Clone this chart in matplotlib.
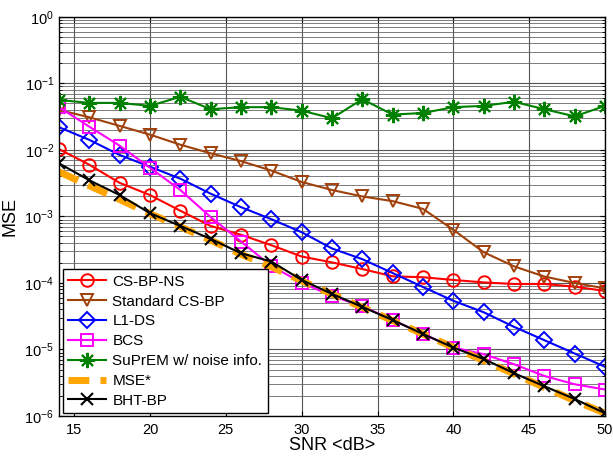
import matplotlib
matplotlib.use("Agg")
import matplotlib.pyplot as plt
import numpy as np

plt.rcParams['font.family'] = ['Liberation Sans', 'DejaVu Sans']
plt.rcParams['mathtext.fontset'] = 'custom'
plt.rcParams['mathtext.rm'] = 'Liberation Sans'
plt.rcParams['mathtext.it'] = 'Liberation Sans'
plt.rcParams['mathtext.default'] = 'regular'

snr = [14, 16, 18, 20, 22, 24, 26, 28, 30, 32, 34, 36, 38, 40, 42, 44, 46, 48, 50]

cs_bp_ns = [0.0103, 0.0060, 0.0032, 0.0021, 0.00122, 0.00072, 0.00053, 0.00037, 0.00025,
            0.000204, 0.000162, 0.000126, 0.000122, 0.000111, 0.000102, 0.0000966,
            0.0000966, 0.000088, 0.000076]
std_cs_bp = [0.040, 0.031, 0.023, 0.017, 0.012, 0.0089, 0.0068, 0.0049, 0.0033,
             0.0025, 0.0020, 0.0017, 0.0013, 0.00063, 0.00029, 0.000178, 0.000125,
             0.0001, 0.000083]
l1_ds = [0.022, 0.0142, 0.0084, 0.0056, 0.0037, 0.0022, 0.00138, 0.00091, 0.00058,
         0.00033, 0.000228, 0.000141, 0.000087, 0.000054, 0.0000363, 0.0000219,
         0.0000138, 0.0000087, 0.0000055]
bcs = [0.044, 0.0224, 0.0116, 0.0054, 0.0025, 0.00098, 0.00042, 0.000180, 0.000101,
       0.0000638, 0.0000447, 0.0000277, 0.0000171, 0.0000107, 0.0000085, 0.0000060,
       0.0000040, 0.0000030, 0.0000025]
suprem = [0.0565, 0.051, 0.051, 0.046, 0.063, 0.041, 0.044, 0.044, 0.039, 0.030,
          0.058, 0.034, 0.036, 0.044, 0.046, 0.053, 0.041, 0.032, 0.046]
mse_star = [0.0047, 0.0029, 0.0018, 0.0011, 0.00070, 0.00044, 0.00027, 0.000175,
            0.000108, 0.0000680, 0.0000430, 0.0000272, 0.0000171, 0.0000108,
            0.0000068, 0.0000043, 0.0000027, 0.0000017, 0.0000011]
bht_bp = [0.0063, 0.0035, 0.0021, 0.00112, 0.00072, 0.00046, 0.00028, 0.00021,
          0.000111, 0.0000684, 0.0000437, 0.0000277, 0.0000171, 0.0000107,
          0.0000072, 0.0000044, 0.0000028, 0.0000018, 0.0000011]

fig = plt.figure(figsize=(6.13, 4.58), dpi=100)
ax = fig.add_axes([0.0962, 0.0917, 0.8908, 0.8713])

mk = dict(markersize=9, markerfacecolor='none', markeredgewidth=1.4, linewidth=1.5)
ax.semilogy(snr, cs_bp_ns, '-o', color='#FF0000', label='CS-BP-NS', **mk)
ax.semilogy(snr, std_cs_bp, '-v', color='#A0400A', label='Standard CS-BP', **mk)
ax.semilogy(snr, l1_ds, '-D', color='#0000FF', label='L1-DS',
            markersize=8, markerfacecolor='none', markeredgewidth=1.4, linewidth=1.5)
ax.semilogy(snr, bcs, '-s', color='#FF00FF', label='BCS', **mk)
# matlab style '*' : 8 spoke asterisk
ax.semilogy(snr, suprem, '-', marker=(8, 2, 0), color='#008000',
            label='SuPrEM w/ noise info.',
            markersize=11, markeredgewidth=1.5, linewidth=1.5)
ax.semilogy(snr, mse_star, '--', color='#FFA500', linewidth=5, dashes=(3, 1.6),
            label='MSE*')
ax.semilogy(snr, bht_bp, '-x', color='#000000', label='BHT-BP',
            markersize=9, markeredgewidth=1.5, linewidth=1.5)

ax.set_xlim(14, 50)
ax.set_ylim(1e-6, 1)
ax.set_xticks([15, 20, 25, 30, 35, 40, 45, 50])
ax.grid(True, which='major', color='#555555', linewidth=0.8)
ax.grid(True, which='minor', axis='y', color='#666666', linewidth=0.6)
ax.tick_params(which='both', direction='in', top=True, right=True, labelsize=10.5)
ax.tick_params(axis='x', pad=5)
for s in ax.spines.values():
    s.set_linewidth(1.0)

ax.set_xlabel('SNR <dB>', fontsize=13, labelpad=0)
ax.set_ylabel('MSE', fontsize=13, labelpad=4)

leg = ax.legend(loc='lower left', bbox_to_anchor=(0.007, 0.0075), borderaxespad=0,
                fontsize=11, fancybox=False, edgecolor='black', framealpha=1,
                handlelength=2.5, labelspacing=0.38, handletextpad=0.4,
                borderpad=0.35)
leg.get_frame().set_linewidth(1.0)

fig.savefig('out.png', dpi=100)
